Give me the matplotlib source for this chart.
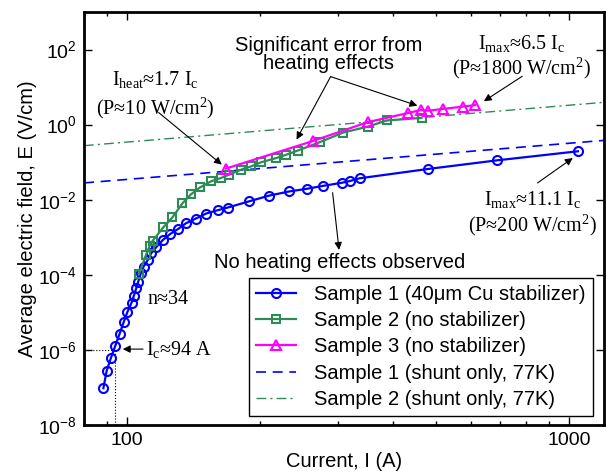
import math
import matplotlib
matplotlib.use("Agg")
import matplotlib.pyplot as plt
from matplotlib.ticker import FixedLocator, FuncFormatter, NullLocator, LogLocator, NullFormatter

# Sample 1 (40um Cu stabilizer)
s1_current = [88.5, 90.0, 92.0, 94.1, 96.3, 98.3, 100.2, 102.5, 103.7, 105.0,
              106.1, 107.6, 109.1, 111.6, 113.6, 116.6, 120.7, 125.4, 130.6, 135.9,
              143.3, 151.0, 160.5, 169.0, 189.4, 210.0, 233.0, 255.0, 278.0, 306.0,
              320.0, 336.0, 481.0, 688.0, 1048.0]
s1_field = [9.55e-8, 2.75e-7, 6.03e-7, 1.26e-6, 2.69e-6, 5.37e-6, 1.0e-5, 1.82e-5, 2.75e-5, 4.37e-5,
            6.61e-5, 1.12e-4, 1.66e-4, 2.51e-4, 3.80e-4, 5.50e-4, 8.51e-4, 1.23e-3, 1.66e-3, 2.34e-3,
            3.16e-3, 4.27e-3, 5.25e-3, 6.17e-3, 9.12e-3, 1.29e-2, 1.66e-2, 1.95e-2, 2.34e-2, 2.82e-2,
            3.16e-2, 3.72e-2, 6.61e-2, 0.112, 0.195]

# Sample 2 (no stabilizer)
s2_current = [106.5, 110.5, 112.6, 114.3, 121.0, 126.8, 133.5, 139.5, 146.5, 155.0,
              163.3, 170.5, 181.3, 191.3, 201.5, 217.7, 229.4, 243.6, 274.0, 308.8,
              351.5, 387.5, 464.0]
s2_field = [1.07e-4, 3.39e-4, 5.89e-4, 7.94e-4, 1.86e-3, 3.39e-3, 7.94e-3, 1.38e-2, 2.14e-2, 3.09e-2,
            3.80e-2, 4.68e-2, 6.31e-2, 7.76e-2, 0.100, 0.129, 0.158, 0.204, 0.347, 0.617,
            0.891, 1.29, 1.51]

# Sample 3 (no stabilizer)
s3_current = [167.6, 263.0, 351.0, 433.0, 462.0, 480.0, 520.0, 576.0, 613.0]
s3_field = [0.0676, 0.363, 1.17, 2.04, 2.45, 2.34, 2.63, 3.02, 3.31]

# shunt-only lines at 77 K (end points)
shunt1_current = [80, 1200]
shunt1_field = [0.028, 0.38]
shunt2_current = [80, 1200]
shunt2_field = [0.275, 3.93]

ic_current = 94
ic_field = 1e-6

legend_labels = ["Sample 1 (40μm Cu stabilizer)", "Sample 2 (no stabilizer)",
                 "Sample 3 (no stabilizer)", "Sample 1 (shunt only, 77K)",
                 "Sample 2 (shunt only, 77K)"]

plt.rcParams['font.family'] = ['Liberation Sans', 'DejaVu Sans']
plt.rcParams['mathtext.fontset'] = 'custom'
plt.rcParams['mathtext.rm'] = 'Liberation Serif'
plt.rcParams['mathtext.it'] = 'Liberation Serif:italic'
plt.rcParams['mathtext.sf'] = 'Liberation Sans'

BLUE = '#0000ff'
GREEN = '#2e8b57'
MAGENTA = '#ff00ff'
SERIF = ['Liberation Serif', 'DejaVu Serif']
FS = 14.5


def arrow(ax, text, xy, xytext, **kw):
    ax.annotate(text, xy=xy, xytext=xytext,
                arrowprops=dict(arrowstyle='-|>', color='k', lw=0.8,
                                mutation_scale=11, shrinkA=0, shrinkB=0),
                **kw)


def main() -> None:
    fig = plt.figure(figsize=(6.07, 4.74), dpi=100)
    ax = fig.add_axes([0.1384, 0.1034, 0.8566, 0.8713])

    ax.plot(s1_current, s1_field, '-o', color=BLUE, lw=1.6, ms=6.5, mew=1.5,
            mfc='none', label=legend_labels[0], zorder=3)
    ax.plot(s2_current, s2_field, '-s', color=GREEN, lw=1.6, ms=5.5, mew=1.5,
            mfc='none', label=legend_labels[1], zorder=3)
    ax.plot(s3_current, s3_field, '-^', color=MAGENTA, lw=1.6, ms=7.5, mew=1.5,
            mfc='none', label=legend_labels[2], zorder=4)
    ax.plot(shunt1_current, shunt1_field, '--', color=BLUE, lw=1.2,
            dashes=(6, 4), label=legend_labels[3], zorder=2)
    ax.plot(shunt2_current, shunt2_field, '-.', color=GREEN, lw=1.0,
            dashes=(7, 3, 1.5, 3), label=legend_labels[4], zorder=2)

    # critical current markers
    ax.plot([ic_current, ic_current], [1e-8, ic_field], ':', color='k', lw=0.8)
    ax.plot([80, ic_current], [ic_field, ic_field], ':', color='k', lw=0.8)

    ax.set_xscale('log')
    ax.set_yscale('log')
    ax.set_xlim(80, 1200)
    ax.set_ylim(1e-8, 1e3)

    ax.xaxis.set_major_locator(FixedLocator([100, 1000]))
    ax.xaxis.set_major_formatter(FuncFormatter(lambda v, p: '%d' % v))
    ax.xaxis.set_minor_locator(LogLocator(base=10, subs=range(2, 10)))
    ax.xaxis.set_minor_formatter(NullFormatter())
    ax.yaxis.set_major_locator(FixedLocator([1e-8, 1e-6, 1e-4, 1e-2, 1e0, 1e2]))
    ax.yaxis.set_major_formatter(FuncFormatter(
        lambda v, p: r'$\mathsf{10^{%d}}$' % round(math.log10(v))))
    ax.yaxis.set_minor_locator(NullLocator())

    ax.tick_params(which='both', direction='in', top=True, right=True, labelsize=14)
    ax.tick_params(which='major', length=6, width=1, pad=5)
    ax.tick_params(which='minor', length=3, width=1)
    for s in ax.spines.values():
        s.set_linewidth(2)

    ax.set_xlabel('Current, I (A)', fontsize=FS, labelpad=2)
    ax.set_ylabel('Average electric field, E (V/cm)', fontsize=FS, labelpad=1)

    # annotations
    ax.text(286, 74, 'Significant error from\nheating effects', fontsize=FS,
            ha='center', va='center', linespacing=0.95)
    arrow(ax, '', xy=(242, 0.40), xytext=(289, 19))
    arrow(ax, '', xy=(454, 3.2), xytext=(289, 19))

    ax.text(116, 6.3, 'I$_{\\rm heat}$≈1.7 I$_{\\rm c}$\n(P≈10 W/cm$^{2}$)',
            fontsize=FS, family=SERIF, ha='center', va='center', linespacing=1.3)
    arrow(ax, '', xy=(164, 0.086), xytext=(118, 2.1))

    ax.text(782, 65, 'I$_{\\rm max}$≈6.5 I$_{\\rm c}$\n(P≈1800 W/cm$^{2}$)',
            fontsize=FS, family=SERIF, ha='center', va='center', linespacing=1.1)
    arrow(ax, '', xy=(642, 4.2), xytext=(784, 19.4))

    ax.text(828, 4.2e-3, 'I$_{\\rm max}$≈11.1 I$_{\\rm c}$\n(P≈200 W/cm$^{2}$)',
            fontsize=FS, family=SERIF, ha='center', va='center', linespacing=1.15)
    arrow(ax, '', xy=(1020, 0.129), xytext=(849, 0.028))

    ax.text(303, 2.1e-4, 'No heating effects observed', fontsize=FS,
            ha='center', va='center')
    arrow(ax, '', xy=(302, 4.6e-4), xytext=(292, 0.0154))

    ax.text(124, 2.15e-5, 'n≈34', fontsize=FS, family=SERIF,
            ha='center', va='center')
    arrow(ax, 'I$_{\\rm c}$≈94 A', xy=(97.9, 1.05e-6), xytext=(110.4, 1.05e-6),
          fontsize=FS, family=SERIF, ha='left', va='center')

    leg = ax.legend(loc='lower right', bbox_to_anchor=(0.979, 0.022),
                    borderaxespad=0, fontsize=FS, fancybox=False,
                    framealpha=1, edgecolor='k', handlelength=2.0,
                    labelspacing=0.36, borderpad=0.35, handletextpad=0.9)
    leg.get_frame().set_linewidth(1.0)

    fig.savefig('out.png', dpi=100)


if __name__ == '__main__':
    main()
